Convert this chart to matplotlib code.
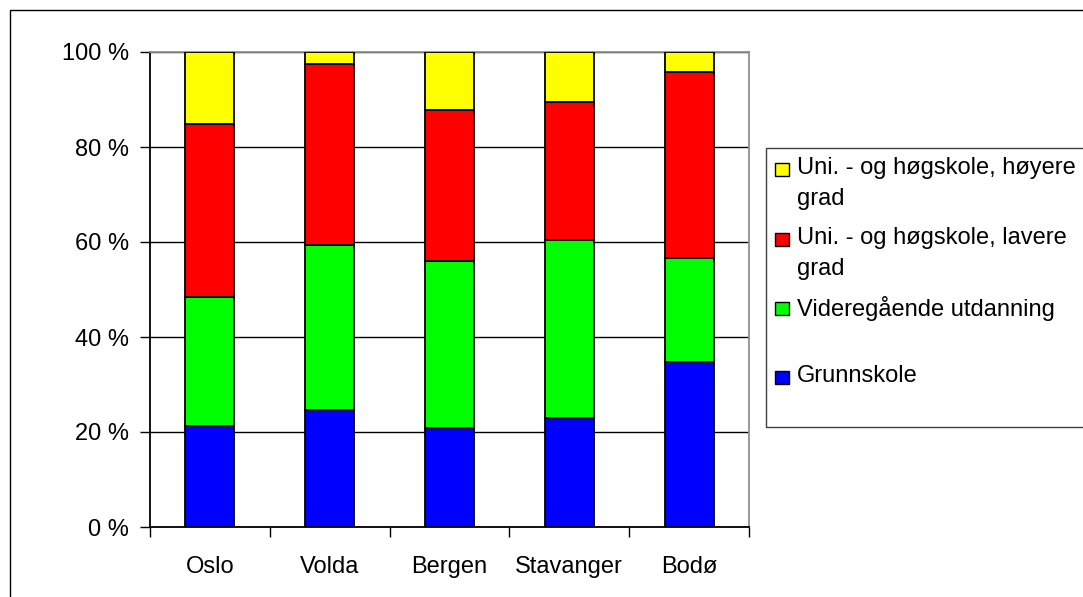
import numpy as np
import matplotlib
matplotlib.use('Agg')
import matplotlib.pyplot as plt
from matplotlib.patches import Rectangle

plt.rcParams['font.family'] = ['Liberation Sans', 'DejaVu Sans']

# ── Data (andel i %) ─────────────────────────────────────────────────────
categories = ['Oslo', 'Volda', 'Bergen', 'Stavanger', 'Bodø']
grunnskole = [21.3, 24.6, 20.8, 22.9, 34.7]
videregaende = [27.1, 34.8, 35.2, 37.5, 21.9]
lavere_grad = [36.4, 38.1, 31.8, 29.1, 39.2]
hoyere_grad = [15.2, 2.5, 12.2, 10.5, 4.2]

series = [grunnskole, videregaende, lavere_grad, hoyere_grad]
labels = ['Grunnskole', 'Videregående utdanning',
          'Uni. - og høgskole, lavere\ngrad', 'Uni. - og høgskole, høyere\ngrad']
colors = ['#0000FF', '#00FF00', '#FF0000', '#FFFF00']
y_ticks = [0, 20, 40, 60, 80, 100]

W, H = 1083, 597
FS = 17

fig = plt.figure(figsize=(W / 100, H / 100), dpi=100)
fig.patch.set_facecolor('white')

# ytre ramme (avkuttet til høyre/nederst som i originalen)
fig.add_artist(Rectangle((10 / W, -0.1), 1.2, 1.1 - 10 / H, transform=fig.transFigure,
                         fill=False, edgecolor='black', linewidth=1.0))

ax = fig.add_axes([150 / W, 1 - 527 / H, (749 - 150) / W, (527 - 52) / H])

x = np.arange(len(categories))
bottom = np.zeros(len(categories))
for vals, col in zip(series, colors):
    ax.bar(x, vals, width=0.41, bottom=bottom, color=col,
           edgecolor='black', linewidth=1.3, zorder=3)
    bottom += np.array(vals)

ax.set_xlim(-0.5, len(categories) - 0.5)
ax.set_ylim(0, 100)

ax.set_yticks(y_ticks)
ax.set_yticklabels([f'{v} %' for v in y_ticks], fontsize=FS)
ax.yaxis.grid(True, color='black', linewidth=1.0, zorder=0)
ax.tick_params(axis='y', length=7, width=1, pad=8, colors='black')

ax.set_xticks(x)
ax.set_xticklabels(categories, fontsize=FS)
ax.tick_params(axis='x', which='major', length=0, pad=21)
ax.set_xticks(np.arange(len(categories) + 1) - 0.5, minor=True)
ax.tick_params(axis='x', which='minor', length=7, width=1, colors='black')

ax.spines['left'].set_color('black')
ax.spines['bottom'].set_color('black')
ax.spines['top'].set_color('#909090')
ax.spines['right'].set_color('#909090')
for s in ax.spines.values():
    s.set_linewidth(1.3)

# ── Tegnforklaring (tegnet manuelt, Excel-stil) ─────────────────────────
fig.add_artist(Rectangle((766 / W, 1 - 427 / H), 0.5, (427 - 148) / H,
                         transform=fig.transFigure, fill=False,
                         edgecolor='#404040', linewidth=1.0))
legend_rows = [169, 239, 308, 377]
for row, lab, col in zip(legend_rows, labels[::-1], colors[::-1]):
    fig.add_artist(Rectangle((775 / W, 1 - (row + 7) / H), 14 / W, 13 / H,
                             transform=fig.transFigure, facecolor=col,
                             edgecolor='black', linewidth=1.0))
    fig.text(797 / W, 1 - (row - 12) / H, lab, fontsize=FS, va='top', ha='left',
             linespacing=1.52)

plt.savefig('out.png', dpi=100, facecolor='white')
